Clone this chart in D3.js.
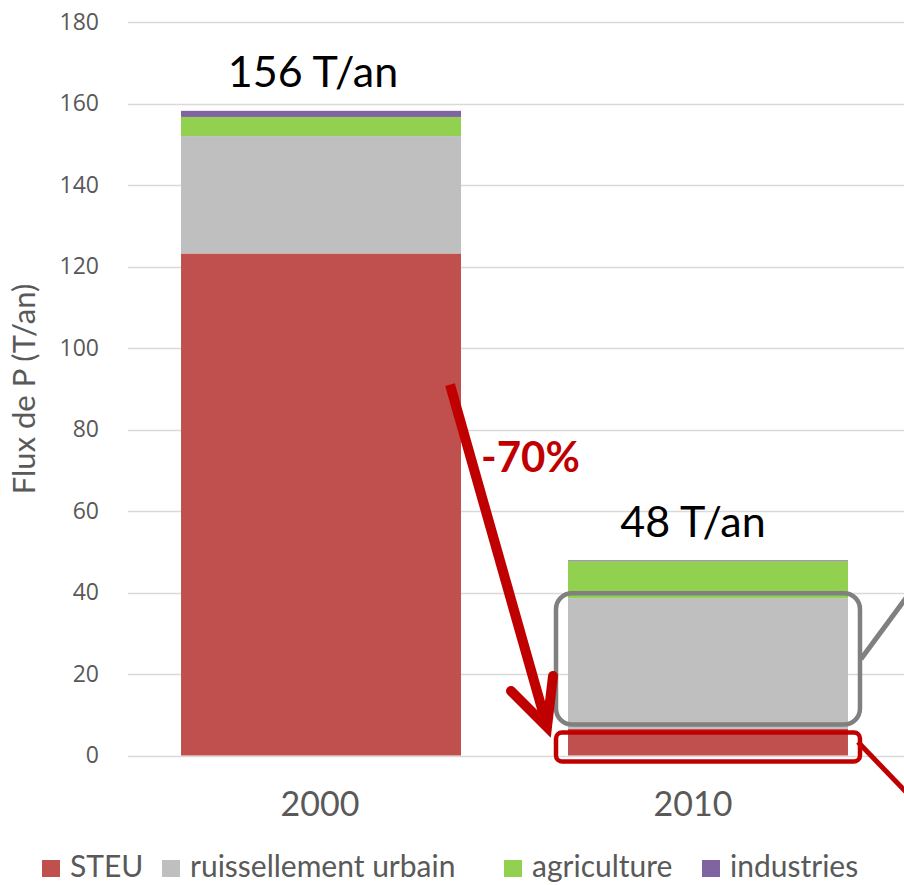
<!DOCTYPE html>
<html><head><meta charset="utf-8">
<script src="https://cdn.jsdelivr.net/npm/d3@7/dist/d3.min.js"></script>
<style>body{margin:0;background:#fff}svg{display:block}</style>
</head><body>
<svg id="c" width="904" height="885"></svg>
<script>
const categories = ["2000", "2010"];
const seriesNames = ["STEU", "ruissellement urbain", "agriculture", "industries"];
const steu = [123.2, 6.6];
const ruissellement = [28.8, 32.0];
const agriculture = [4.7, 9.1];
const industries = [1.5, 0.2];
const totalLabels = ["156 T/an", "48 T/an"];
const yTicks = [0, 20, 40, 60, 80, 100, 120, 140, 160, 180];
const colors = ["#c0504d", "#bfbfbf", "#92d050", "#8064a2"];

const svg = d3.select("#c");
const y = d3.scaleLinear().domain([0, 180]).range([755.5, 22]);
const x = d3.scaleBand().domain(categories).range([128, 901]).paddingInner(0.2765).paddingOuter(0.137);
const labelX = d3.scalePoint().domain(categories).range([320, 693]);

// gridlines
svg.append("g").selectAll("line").data(yTicks).join("line")
  .attr("x1", 128).attr("x2", 904)
  .attr("y1", d => Math.round(y(d)) + 0.5).attr("y2", d => Math.round(y(d)) + 0.5)
  .attr("stroke", "#d9d9d9").attr("stroke-width", 1.3);

// y axis labels
const yAxis = d3.axisLeft(y).tickValues(yTicks).tickSize(0).tickPadding(0);
const ga = svg.append("g").attr("transform", "translate(99,0)").call(yAxis);
ga.select(".domain").remove();
ga.selectAll("text").attr("font-family", "Open Sans").attr("font-size", 23).attr("fill", "#595959");

// y title
svg.append("text").attr("transform", "translate(35,389) rotate(-90)")
  .attr("text-anchor", "middle").attr("font-family", "Lato").attr("font-size", 31)
  .attr("fill", "#595959").text("Flux de P (T/an)");

// stack data
const table = categories.map((c, i) => ({
  cat: c,
  "STEU": steu[i],
  "ruissellement urbain": ruissellement[i],
  "agriculture": agriculture[i],
  "industries": industries[i]
}));
const stacked = d3.stack().keys(seriesNames)(table);
svg.append("g").selectAll("g").data(stacked).join("g")
  .attr("fill", (d, i) => colors[i])
  .selectAll("rect").data(d => d).join("rect")
  .attr("x", d => x(d.data.cat)).attr("width", x.bandwidth())
  .attr("y", d => y(d[1])).attr("height", d => y(d[0]) - y(d[1]));

// x labels
svg.append("g").selectAll("text").data(categories).join("text")
  .attr("x", d => labelX(d)).attr("y", 816).attr("text-anchor", "middle")
  .attr("font-family", "Lato").attr("font-size", 34).attr("fill", "#595959").text(d => d);

// total labels
svg.append("g").selectAll("text").data(categories).join("text")
  .attr("x", (d, i) => i === 0 ? x(d) + x.bandwidth() / 2 - 8 : labelX(d))
  .attr("y", (d, i) => i === 0 ? 87 : 537).attr("text-anchor", "middle")
  .attr("font-family", "Lato").attr("font-size", 43).attr("fill", "#000").text((d, i) => totalLabels[i]);

// annotations
const b2 = x("2010"), bw = x.bandwidth();
const ruissTop = y(steu[1] + ruissellement[1]);
const steuTop = y(steu[1]);
// gray rounded box
svg.append("rect").attr("x", b2 - 12).attr("y", ruissTop - 5).attr("width", bw + 24)
  .attr("height", steuTop - ruissTop + 1).attr("rx", 16).attr("ry", 16)
  .attr("fill", "none").attr("stroke", "#808080").attr("stroke-width", 4.5);
svg.append("line").attr("x1", b2 + bw + 13).attr("y1", 659).attr("x2", 906).attr("y2", 598)
  .attr("stroke", "#808080").attr("stroke-width", 5);
// red rounded box
svg.append("rect").attr("x", b2 - 12).attr("y", steuTop + 4).attr("width", bw + 24)
  .attr("height", y(0) - steuTop + 2).attr("rx", 6).attr("ry", 6)
  .attr("fill", "none").attr("stroke", "#c00000").attr("stroke-width", 4.5);
svg.append("line").attr("x1", b2 + bw + 10).attr("y1", 742).attr("x2", 906).attr("y2", 792)
  .attr("stroke", "#c00000").attr("stroke-width", 5);

// arrow
const ax0 = x("2000") + bw - 11, ay0 = y(91);
const ax1 = 547, ay1 = 727;
svg.append("line").attr("x1", ax0).attr("y1", ay0).attr("x2", ax1 - 1).attr("y2", ay1 - 4)
  .attr("stroke", "#c00000").attr("stroke-width", 10);
svg.append("path").attr("d", `M511,691 L${ax1},${ay1} L553,676`)
  .attr("fill", "none").attr("stroke", "#c00000").attr("stroke-width", 10)
  .attr("stroke-linejoin", "miter").attr("stroke-linecap", "round");
svg.append("text").attr("x", 481).attr("y", 472).attr("font-family", "Lato").attr("font-weight", "bold")
  .attr("font-size", 42).attr("fill", "#c00000").text("-70%");

// legend
const legendStarts = [42, 162, 504, 702];
const lg = svg.append("g");
seriesNames.forEach((n, i) => {
  const lx = legendStarts[i];
  lg.append("rect").attr("x", lx).attr("y", 860).attr("width", 18).attr("height", 17).attr("fill", colors[i]);
  lg.append("text").attr("x", lx + 28).attr("y", 877).attr("font-family", "Lato")
    .attr("font-size", 30).attr("fill", "#595959").text(n);
});
</script>
</body></html>
